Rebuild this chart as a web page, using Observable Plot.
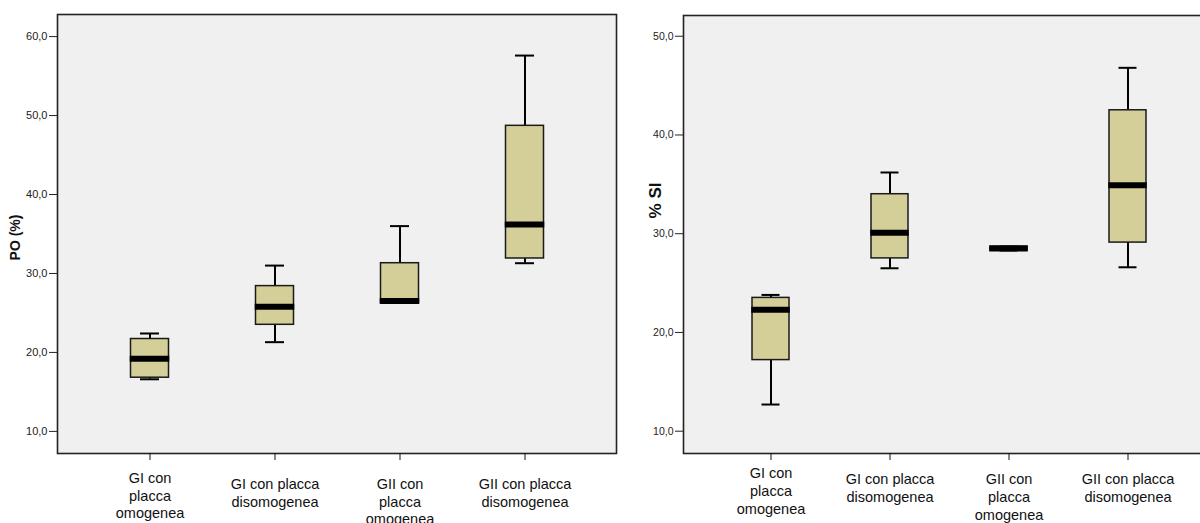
<!DOCTYPE html>
<html>
<head>
<meta charset="utf-8">
<script src="https://cdn.jsdelivr.net/npm/d3@7"></script>
<script src="https://cdn.jsdelivr.net/npm/@observablehq/plot@0.6"></script>
<style>
html, body { margin: 0; padding: 0; background: #fff; }
#wrap { position: relative; width: 1200px; height: 523px; overflow: hidden; }
#left { position: absolute; left: 0; top: 0; width: 620px; }
#right { position: absolute; left: 600px; top: 0; width: 620px; }
svg { overflow: visible; max-width: none !important; }
</style>
</head>
<body>
<div id="wrap"><div id="left"></div><div id="right"></div></div>
<script>
// ---- data ----
const categories = [
  "GI con placca omogenea",
  "GI con placca disomogenea",
  "GII con placca omogenea",
  "GII con placca disomogenea"
];
const tickLabels = [
  "GI con\nplacca\nomogenea",
  "GI con placca\ndisomogenea",
  "GII con\nplacca\nomogenea",
  "GII con placca\ndisomogenea"
];
const yTicksPO = [10, 20, 30, 40, 50, 60];
const yTicksSI = [10, 20, 30, 40, 50];

// PO (%) box summaries
const poMin = [16.6, 21.3, 26.3, 31.3];
const poQ1  = [16.8, 23.5, 26.3, 31.9];
const poMed = [19.2, 25.8, 26.5, 36.2];
const poQ3  = [21.7, 28.4, 31.3, 48.7];
const poMax = [22.4, 31.0, 36.0, 57.6];

// % SI box summaries
const siMin = [12.7, 26.5, 28.3, 26.6];
const siQ1  = [17.2, 27.5, 28.3, 29.1];
const siMed = [22.3, 30.1, 28.5, 34.9];
const siQ3  = [23.5, 34.0, 28.7, 42.5];
const siMax = [23.8, 36.2, 28.7, 46.8];

// ---- helpers ----
const fmt = d => d.toFixed(1).replace(".", ",");
const labelOf = c => tickLabels[categories.indexOf(c)];
const font = "'Liberation Sans', Arial, Helvetica, sans-serif";
const boxFill = "#d4cf98";

function rowsFrom(mn, q1, md, q3, mx) {
  return categories.map((c, i) => ({cat: c, min: mn[i], q1: q1[i], med: md[i], q3: q3[i], max: mx[i]}));
}

function makeChart(cfg) {
  const rows = rowsFrom(...cfg.stats);
  return Plot.plot({
    width: cfg.width,
    height: 523,
    marginLeft: cfg.ml,
    marginRight: cfg.mr,
    marginTop: cfg.mt,
    marginBottom: cfg.mb,
    style: {fontFamily: font, background: "transparent", overflow: "visible", maxWidth: "none"},
    x: {type: "band", domain: categories, paddingInner: 0, paddingOuter: 0.22},
    y: {domain: cfg.ydomain, nice: false},
    marks: [
      Plot.frame({fill: "#f0f0f0", stroke: null}),
      Plot.ruleX(rows, {x: "cat", y1: "min", y2: "q1", stroke: "#000", strokeWidth: 2}),
      Plot.ruleX(rows, {x: "cat", y1: "q3", y2: "max", stroke: "#000", strokeWidth: 2}),
      Plot.tickY(rows, {x: "cat", y: "min", stroke: "#000", strokeWidth: 2, insetLeft: cfg.capInset, insetRight: cfg.capInset}),
      Plot.tickY(rows, {x: "cat", y: "max", stroke: "#000", strokeWidth: 2, insetLeft: cfg.capInset, insetRight: cfg.capInset}),
      Plot.barY(rows, {x: "cat", y1: "q1", y2: "q3", fill: boxFill, stroke: "#1a1a1a", strokeWidth: 1.5, insetLeft: cfg.boxInset, insetRight: cfg.boxInset}),
      Plot.tickY(rows, {x: "cat", y: "med", stroke: "#000", strokeWidth: 6, insetLeft: cfg.boxInset - 0.75, insetRight: cfg.boxInset - 0.75}),
      Plot.frame({stroke: "#222", strokeWidth: 1.6}),
      Plot.axisY({ticks: cfg.yticks, tickFormat: fmt, tickSize: 8, tickPadding: 2, fontSize: cfg.tickFont, color: "#222", label: null}),
      Plot.axisX({ticks: [categories[0]], tickFormat: labelOf, tickSize: 7, tickPadding: cfg.pad0, fontSize: cfg.catFont, lineHeight: cfg.lh, color: "#111", label: null}),
      Plot.axisX({ticks: categories.slice(1), tickFormat: labelOf, tickSize: 7, tickPadding: cfg.pad1, fontSize: cfg.catFont, lineHeight: cfg.lh, color: "#111", label: null}),
      Plot.text([cfg.title], {frameAnchor: "left", textAnchor: "middle", text: d => d, rotate: -90, dx: cfg.titleDx, dy: cfg.titleDy, fontWeight: "bold", fontSize: cfg.titleFont, fill: "#111"})
    ]
  });
}

document.getElementById("left").appendChild(makeChart({
  width: 620, ml: 57, mr: 4, mt: 14, mb: 70,
  ydomain: [7.2, 62.8], yticks: yTicksPO,
  stats: [poMin, poQ1, poMed, poQ3, poMax],
  boxInset: 43.5, capInset: 53,
  tickFont: 11, catFont: 14.5, lh: 1.22, pad0: 10, pad1: 16,
  title: "PO (%)", titleDx: -42, titleDy: 3.5, titleFont: 14
}));

document.getElementById("right").appendChild(makeChart({
  width: 620, ml: 83, mr: 6, mt: 15, mb: 70,
  ydomain: [7.74, 52.1], yticks: yTicksSI,
  stats: [siMin, siQ1, siMed, siQ3, siMax],
  boxInset: 41, capInset: 50.5,
  tickFont: 10.5, catFont: 14.5, lh: 1.24, pad0: 4.5, pad1: 11,
  title: "% SI", titleDx: -28, titleDy: -34, titleFont: 17
}));
</script>
</body>
</html>
